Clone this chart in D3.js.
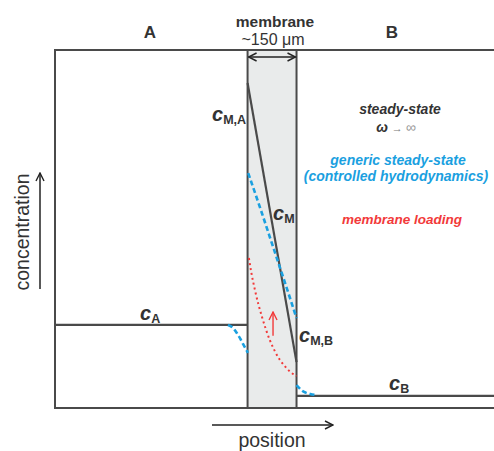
<!DOCTYPE html>
<html>
<head>
<meta charset="utf-8">
<script src="https://cdn.jsdelivr.net/npm/d3@7"></script>
<style>
  body { margin: 0; background: #fff; }
  svg { font-family: "Liberation Sans", Arial, sans-serif; }
</style>
</head>
<body>
<div id="chart"></div>
<script>
// Dimensions
const width = 494;
const height = 451;

// Position (µm) and concentration (arbitrary %)
const membraneEdges = [0, 150];
const xExtent = [-590, 755];

const steadyBathA = [[-590, 23.2], [0, 23.2]];
const steadyMembrane = [[0, 90.8], [150, 12.8]];
const steadyBathB = [[150, 3.4], [755, 3.4]];

const genericA = [[-60, 23.2], [-45, 22.4], [-32, 20.8], [-22, 19.3], [-14, 17.9], [-6, 16.6], [1, 15.4]];
const genericMembrane = [[2, 65.6], [40, 55.5], [80, 44.5], [120, 33.5], [150, 25.1]];
const genericB = [[150, 6.4], [158, 5.6], [166, 4.9], [178, 4.3], [192, 3.9], [212, 3.6]];

const loadingMembrane = [[4, 41.9], [12, 37.6], [22, 33.2], [33, 29.0], [44, 25.5], [56, 22.0], [68, 19.0], [84, 15.8], [100, 13.3], [116, 11.5], [132, 10.0], [150, 8.9]];
const loadingArrow = [[78, 20.2], [78, 26.8]];

const svg = d3.select("#chart").append("svg")
  .attr("width", width)
  .attr("height", height);

const x = d3.scaleLinear().domain(xExtent).range([55, 494]);
const y = d3.scaleLinear().domain([0, 100]).range([408, 50]);

const line = d3.line().x(d => x(d[0])).y(d => y(d[1]));
const curve = d3.line().x(d => x(d[0])).y(d => y(d[1])).curve(d3.curveMonotoneX);

const grey = "#4a4a4a";
const blue = "#1aa0e0";
const red = "#f23a3a";

// arrow markers
const defs = svg.append("defs");
function marker(id, color, size) {
  defs.append("marker")
    .attr("id", id)
    .attr("viewBox", "0 -5 10 10")
    .attr("refX", 9).attr("refY", 0)
    .attr("markerWidth", size).attr("markerHeight", size)
    .attr("markerUnits", "userSpaceOnUse")
    .attr("orient", "auto-start-reverse")
    .append("path")
    .attr("d", "M1,-4L9,0L1,4")
    .attr("fill", "none")
    .attr("stroke", color)
    .attr("stroke-width", 1.4);
}
marker("arrBlack", "#222", 10);
marker("arrRed", red, 10);

// membrane band
svg.append("rect")
  .attr("x", x(membraneEdges[0]))
  .attr("y", y(100))
  .attr("width", x(membraneEdges[1]) - x(membraneEdges[0]))
  .attr("height", y(0) - y(100))
  .attr("fill", "#e9ebeb");

// frame
svg.append("path")
  .attr("d", line([[xExtent[1], 100], [xExtent[0], 100], [xExtent[0], 0], [xExtent[1], 0]]))
  .attr("fill", "none")
  .attr("stroke", grey)
  .attr("stroke-width", 2);

membraneEdges.forEach(m => {
  svg.append("path")
    .attr("d", line([[m, 100], [m, 0]]))
    .attr("stroke", grey)
    .attr("stroke-width", 2);
});

// steady state profile
[steadyBathA, steadyMembrane, steadyBathB].forEach(seg => {
  svg.append("path")
    .attr("d", line(seg))
    .attr("fill", "none")
    .attr("stroke", grey)
    .attr("stroke-width", 2.2);
});

// generic steady state (blue dashed)
[genericA, genericMembrane, genericB].forEach(seg => {
  svg.append("path")
    .attr("d", curve(seg))
    .attr("fill", "none")
    .attr("stroke", blue)
    .attr("stroke-width", 2.6)
    .attr("stroke-dasharray", "5,3");
});

// membrane loading (red dotted)
svg.append("path")
  .attr("d", curve(loadingMembrane))
  .attr("fill", "none")
  .attr("stroke", red)
  .attr("stroke-width", 2)
  .attr("stroke-dasharray", "2,3");

svg.append("path")
  .attr("d", line(loadingArrow))
  .attr("stroke", red)
  .attr("stroke-width", 1.4)
  .attr("marker-end", "url(#arrRed)");

// membrane width arrow
svg.append("line")
  .attr("x1", x(membraneEdges[0]) + 1).attr("x2", x(membraneEdges[1]) - 1)
  .attr("y1", 57).attr("y2", 57)
  .attr("stroke", "#222")
  .attr("stroke-width", 1.3)
  .attr("marker-start", "url(#arrBlack)")
  .attr("marker-end", "url(#arrBlack)");

// axis arrows
svg.append("line")
  .attr("x1", 40).attr("x2", 40).attr("y1", 289).attr("y2", 173)
  .attr("stroke", "#222").attr("stroke-width", 1.5)
  .attr("marker-end", "url(#arrBlack)");
svg.append("line")
  .attr("x1", 212).attr("x2", 333).attr("y1", 425).attr("y2", 425)
  .attr("stroke", "#222").attr("stroke-width", 1.5)
  .attr("marker-end", "url(#arrBlack)");

svg.append("text")
  .attr("transform", "translate(29,232) rotate(-90)")
  .attr("text-anchor", "middle")
  .attr("font-size", 19.5)
  .attr("fill", "#333")
  .text("concentration");

svg.append("text")
  .attr("x", 272).attr("y", 447)
  .attr("text-anchor", "middle")
  .attr("font-size", 19.5)
  .attr("fill", "#333")
  .text("position");

// top labels
svg.append("text").attr("x", 150).attr("y", 38)
  .attr("text-anchor", "middle").attr("font-size", 17).attr("font-weight", "bold").attr("fill", "#333").text("A");
svg.append("text").attr("x", 392).attr("y", 38)
  .attr("text-anchor", "middle").attr("font-size", 17).attr("font-weight", "bold").attr("fill", "#333").text("B");
svg.append("text").attr("x", 275).attr("y", 27)
  .attr("text-anchor", "middle").attr("font-size", 15.5).attr("font-weight", "bold").attr("fill", "#333").text("membrane");
svg.append("text").attr("x", 273).attr("y", 45)
  .attr("text-anchor", "middle").attr("font-size", 16).attr("fill", "#333").text("~150 \u03BCm");

// concentration labels
function cLabel(px, py, sub, anchor) {
  const t = svg.append("text")
    .attr("x", px).attr("y", py)
    .attr("text-anchor", anchor || "start")
    .attr("fill", "#333")
    .attr("font-weight", "bold");
  t.append("tspan").attr("font-size", 20).attr("font-style", "italic").text("c");
  t.append("tspan").attr("font-size", 12.5).attr("dy", 3).text(sub);
}
cLabel(212, 121, "M,A");
cLabel(273, 220, "M");
cLabel(299, 342, "M,B");
cLabel(140, 320, "A");
cLabel(389, 390, "B");

// legend texts
svg.append("text").attr("x", 400).attr("y", 114)
  .attr("text-anchor", "middle").attr("font-size", 14).attr("font-weight", "bold").attr("font-style", "italic")
  .attr("fill", "#333").text("steady-state");
const w = svg.append("text").attr("x", 396).attr("y", 132)
  .attr("text-anchor", "middle").attr("fill", "#333");
w.append("tspan").attr("font-size", 14).attr("font-weight", "bold").attr("font-style", "italic").text("\u03C9 ");
w.append("tspan").attr("font-size", 11).attr("fill", "#777").text("\u2192 ");
w.append("tspan").attr("font-size", 14).attr("fill", "#999").text("\u221E");

svg.append("text").attr("x", 398).attr("y", 165)
  .attr("text-anchor", "middle").attr("font-size", 14).attr("font-weight", "bold").attr("font-style", "italic")
  .attr("fill", blue).text("generic steady-state");
svg.append("text").attr("x", 396).attr("y", 181)
  .attr("text-anchor", "middle").attr("font-size", 14).attr("font-weight", "bold").attr("font-style", "italic")
  .attr("fill", blue).text("(controlled hydrodynamics)");

svg.append("text").attr("x", 402).attr("y", 224)
  .attr("text-anchor", "middle").attr("font-size", 13.5).attr("font-weight", "bold").attr("font-style", "italic")
  .attr("fill", red).text("membrane loading");
</script>
</body>
</html>
